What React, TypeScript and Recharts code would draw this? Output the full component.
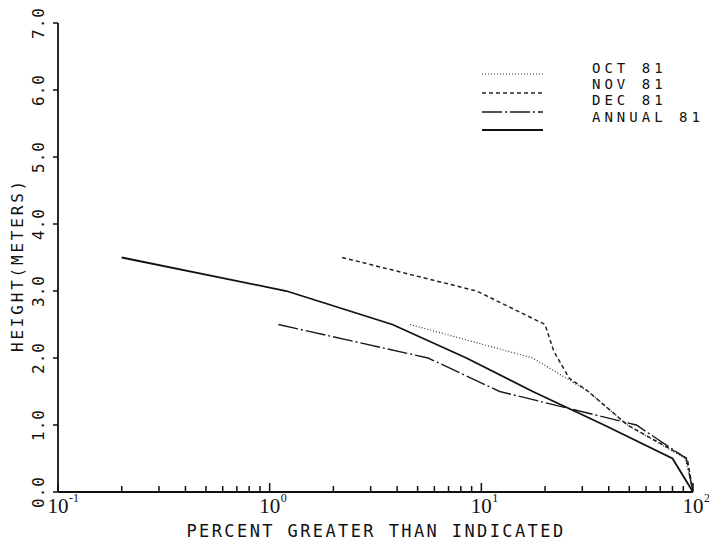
import { Legend, Line, LineChart, XAxis, YAxis } from "recharts";

// percent greater than indicated (x) vs height in metres (y)
const octPct = [4.6, 17.5, 32, 49, 92, 100];
const octHeight = [2.5, 2.0, 1.5, 1.0, 0.5, 0.0];

const novPct = [2.2, 9.5, 20, 22, 26, 32, 49, 94, 100];
const novHeight = [3.5, 3.0, 2.5, 2.1, 1.7, 1.5, 1.0, 0.5, 0.0];

const decPct = [1.1, 5.6, 12.2, 54, 93, 100];
const decHeight = [2.5, 2.0, 1.5, 1.0, 0.5, 0.0];

const annualPct = [0.2, 1.2, 3.8, 8.5, 17.5, 38, 80, 100];
const annualHeight = [3.5, 3.0, 2.5, 2.0, 1.5, 1.0, 0.5, 0.0];

const majorTicks = [0.1, 1, 10, 100];
const majorExponents = ["-1", "0", "1", "2"];
const minorTicks = [
  0.2, 0.3, 0.4, 0.5, 0.6, 0.7, 0.8, 0.9,
  2, 3, 4, 5, 6, 7, 8, 9,
  20, 30, 40, 50, 60, 70, 80, 90,
];
const yTicks = [0, 1, 2, 3, 4, 5, 6, 7];

const SERIES = [
  { name: "OCT 81", pct: octPct, height: octHeight, dash: "1 2", width: 1.2, color: "#333" },
  { name: "NOV 81", pct: novPct, height: novHeight, dash: "4 3", width: 1.5, color: "#222" },
  { name: "DEC 81", pct: decPct, height: decHeight, dash: "20 3 2 3", width: 1.4, color: "#1a1a1a" },
  { name: "ANNUAL 81", pct: annualPct, height: annualHeight, dash: undefined, width: 1.8, color: "#111" },
];

const FONT = "'DejaVu Sans Mono', monospace";
const INK = "#111";

function XTick(props: any) {
  const { x, y, payload } = props;
  const idx = majorTicks.indexOf(payload.value);
  const major = idx >= 0;
  return (
    <g>
      <line x1={x} y1={y} x2={x} y2={y - (major ? 9 : 6)} stroke={INK} strokeWidth={1.5} />
      {major && (
        <>
          <text x={x} y={y + 21} textAnchor="middle" fontFamily="'Liberation Serif', serif" fontSize={21} fill={INK}>
            10
          </text>
          <text x={x + 11} y={y + 10} textAnchor="start" fontFamily="'Liberation Serif', serif" fontSize={12} fill={INK}>
            {majorExponents[idx]}
          </text>
        </>
      )}
    </g>
  );
}

function YTick(props: any) {
  const { y, payload } = props;
  const bx = 36;
  return (
    <text
      x={bx}
      y={y}
      transform={`rotate(-90, ${bx}, ${y})`}
      textAnchor="middle"
      fontFamily={FONT}
      fontSize={16}
      letterSpacing={1}
      fill={INK}
    >
      {payload.value.toFixed(1)}
    </text>
  );
}

function LegendBox() {
  // offsets inside the legend box
  const rows = [22, 41, 60, 78];
  const textY = [21, 37, 53, 70];
  return (
    <svg width={250} height={88}>
      {SERIES.map((s, i) => (
        <g key={s.name}>
          <line x1={8} y1={rows[i]} x2={69} y2={rows[i]} stroke={s.color} strokeWidth={s.width} strokeDasharray={s.dash} />
          <text x={118} y={textY[i]} fontFamily={FONT} fontSize={14} letterSpacing={4} fill={INK}>
            {s.name}
          </text>
        </g>
      ))}
    </svg>
  );
}

export default function App() {
  return (
    <LineChart width={701} height={536} margin={{ top: 15, right: 16, bottom: 0, left: 0 }}>
      <XAxis
        dataKey="x"
        type="number"
        scale="log"
        domain={[0.1, 100]}
        ticks={[...majorTicks, ...minorTicks].sort((a, b) => a - b)}
        allowDataOverflow
        height={52}
        tickSize={0}
        tickMargin={0}
        tickLine={false}
        axisLine={{ stroke: INK, strokeWidth: 1.8 }}
        tick={<XTick />}
        interval={0}
        label={{
          content: () => (
            <text x={368} y={529} textAnchor="middle" fontFamily={FONT} fontSize={17} letterSpacing={2.4} fill={INK}>
              PERCENT GREATER THAN INDICATED
            </text>
          ),
        }}
      />
      <YAxis
        type="number"
        domain={[0, 7]}
        ticks={yTicks}
        width={50}
        tickSize={5}
        tickMargin={0}
        tickLine={{ stroke: INK, strokeWidth: 1.5 }}
        axisLine={{ stroke: INK, strokeWidth: 1.8 }}
        tick={<YTick />}
        interval={0}
        label={{
          content: () => (
            <text
              x={15}
              y={257}
              transform="rotate(-90, 15, 257)"
              textAnchor="middle"
              fontFamily={FONT}
              fontSize={16}
              letterSpacing={2.8}
              fill={INK}
            >
              HEIGHT(METERS)
            </text>
          ),
        }}
      />
      <Legend
        layout="horizontal"
        verticalAlign="middle"
        align="center"
        content={() => <LegendBox />}
        wrapperStyle={{ top: 44, left: 466, width: 250, height: 88 }}
      />
      {SERIES.map((s) => (
        <Line
          key={s.name}
          name={s.name}
          data={s.pct.map((p, i) => ({ x: p, y: s.height[i] }))}
          dataKey="y"
          type="linear"
          stroke={s.color}
          strokeWidth={s.width}
          strokeDasharray={s.dash}
          dot={false}
          activeDot={false}
          isAnimationActive={false}
        />
      ))}
    </LineChart>
  );
}
